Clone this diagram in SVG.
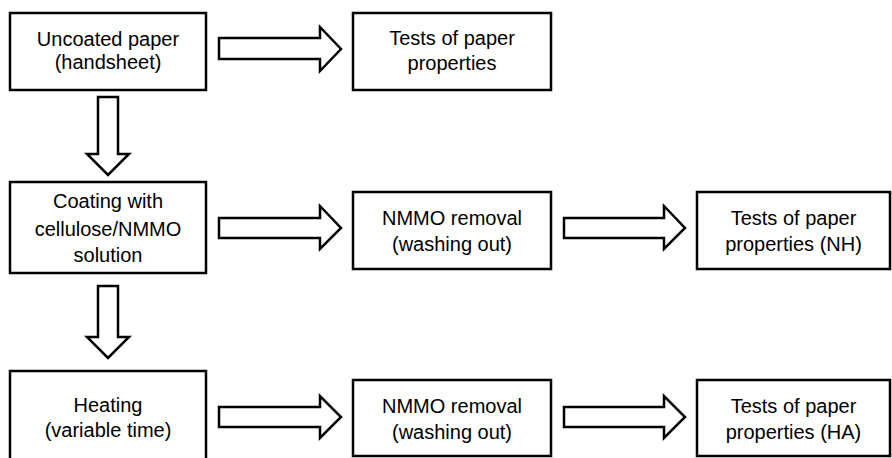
<svg xmlns="http://www.w3.org/2000/svg" width="892" height="458" viewBox="0 0 892 458">
<style>
.box{fill:#fff;stroke:#000;stroke-width:2.5}
.arr{fill:#fff;stroke:#000;stroke-width:2.5;stroke-linejoin:miter}
text{font-family:"Liberation Sans",Arial,sans-serif;font-size:20px;fill:#000;text-anchor:middle}
</style>
<rect width="892" height="458" fill="#fff"/>
<g id="n1"><rect class="box" x="10" y="13" width="196" height="77"/><text x="108" y="46">Uncoated paper</text><text x="108" y="69">(handsheet)</text></g>
<g id="n2"><rect class="box" x="353" y="13" width="198" height="77"/><text x="452" y="45">Tests of paper</text><text x="452" y="70">properties</text></g>
<g id="n3"><rect class="box" x="10" y="182" width="196" height="91"/><text x="108" y="208">Coating with</text><text x="108" y="236">cellulose/NMMO</text><text x="108" y="262">solution</text></g>
<g id="n4"><rect class="box" x="353" y="192" width="198" height="77"/><text x="452" y="225">NMMO removal</text><text x="452" y="251">(washing out)</text></g>
<g id="n5"><rect class="box" x="697" y="192" width="193" height="77"/><text x="793.5" y="225">Tests of paper</text><text x="793.5" y="251">properties (NH)</text></g>
<g id="n6"><rect class="box" x="10" y="371" width="196" height="100"/><text x="108" y="412">Heating</text><text x="108" y="437">(variable time)</text></g>
<g id="n7"><rect class="box" x="353" y="380" width="198" height="76"/><text x="452" y="413">NMMO removal</text><text x="452" y="439">(washing out)</text></g>
<g id="n8"><rect class="box" x="697" y="380" width="193" height="76"/><text x="793.5" y="413">Tests of paper</text><text x="793.5" y="439">properties (HA)</text></g>
<g id="connectors">
<polygon class="arr" points="219,38 320,38 320,27 341,49 320,71 320,59 219,59"/>
<polygon class="arr" points="219,218 320,218 320,206 341,228 320,249 320,238 219,238"/>
<polygon class="arr" points="564,218 664,218 664,206 685,228 664,249 664,238 564,238"/>
<polygon class="arr" points="219,407 320,407 320,396 341,417 320,438 320,427 219,427"/>
<polygon class="arr" points="564,407 664,407 664,396 685,417 664,438 664,427 564,427"/>
<polygon class="arr" points="98,97 118,97 118,154 129,154 108,175 87,154 98,154"/>
<polygon class="arr" points="98,286 118,286 118,337 129,337 108,358 87,337 98,337"/>
</g>
</svg>
